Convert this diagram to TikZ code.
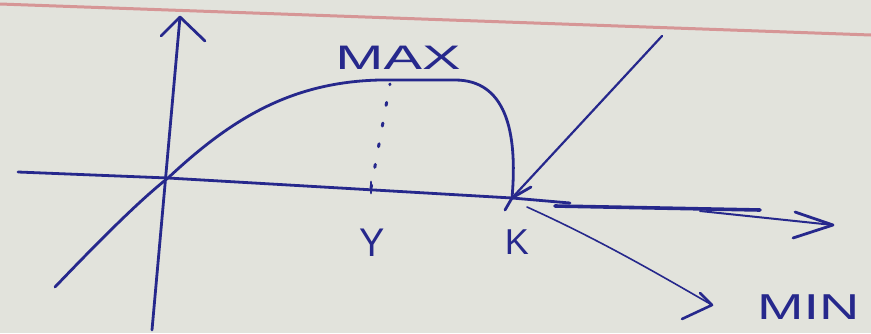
\documentclass[tikz,border=0pt]{standalone}
\usepackage{fontspec}
\setmainfont{Liberation Sans}
\definecolor{paper}{RGB}{226,227,220}
\definecolor{ink}{RGB}{38,40,140}
\definecolor{margin}{RGB}{214,150,150}
\begin{document}
\begin{tikzpicture}[x=1pt,y=-1pt,
  pen/.style={draw=ink,line width=2.8pt,line cap=round,line join=round},
  thinpen/.style={draw=ink,line width=1.6pt,line cap=round,line join=round},
  lbl/.style={text=ink,font=\fontsize{34}{34}\selectfont,inner sep=0pt}]
\fill[paper] (0,0) rectangle (871,333);
\useasboundingbox (0,0) rectangle (871,333);
\draw[margin,line width=3pt] (0,4) -- (871,35);
% coordinates
\coordinate (O) at (168,178);
\coordinate (K) at (512,198);
\coordinate (Yt) at (180,17);
\coordinate (Yb) at (152,330);
\coordinate (Xl) at (18,172);
\coordinate (Xe) at (833,225);
\coordinate (Ym) at (371,188);
\coordinate (Mx) at (390,84);
\coordinate (Dg) at (662,36);
\coordinate (Mn) at (712,305);
\coordinate (Cl) at (55,287);
% axes
\draw[pen] (Yt) -- (Yb);
\draw[pen] (Yt) -- (161,36);
\draw[pen] (Yt) -- (205,41);
\draw[pen] (Xl) -- (O) -- (K) -- (570,203);
\draw[pen,line width=3.6pt] (555,206) -- (760,210);
\draw[thinpen,line width=2pt] (700,211) -- (Xe);
\draw[pen] (795,212) -- (Xe) -- (793,238);
% curve
\draw[pen] (Cl) .. controls (100,240) and (140,200) .. (O)
  .. controls (230,120) and (290,82) .. (380,80) -- (455,80)
  .. controls (505,80) and (518,130) .. (K);
% tick and dotted line
\draw[pen] (371,182) -- (371,193);
\draw[ink,line width=3pt,line cap=round,dash pattern=on 3pt off 18pt] (Ym) -- (Mx);
% diagonal arrow into K
\draw[thinpen,line width=2.2pt] (Dg) -- (K);
\draw[pen] (531,187) -- (K) -- (505,210);
% arrow to MIN
\draw[thinpen] (527,207) .. controls (600,240) and (660,275) .. (Mn);
\draw[thinpen,line width=2.6pt] (700,293) -- (Mn) -- (682,319);
% labels
\node[lbl] (max) at (398,58) {\scalebox{1.7}[1]{MAX}};
\node[lbl,font=\fontsize{40}{40}\selectfont] (ylab) at (372,243) {\scalebox{0.95}[1]{Y}};
\node[lbl,font=\fontsize{36}{36}\selectfont] (klab) at (517,242) {\scalebox{1.0}[1]{K}};
\node[lbl,anchor=west,font=\fontsize{36}{36}\selectfont] (min) at (757,307) {\scalebox{1.55}[1]{MIN}};
\end{tikzpicture}
\end{document}
